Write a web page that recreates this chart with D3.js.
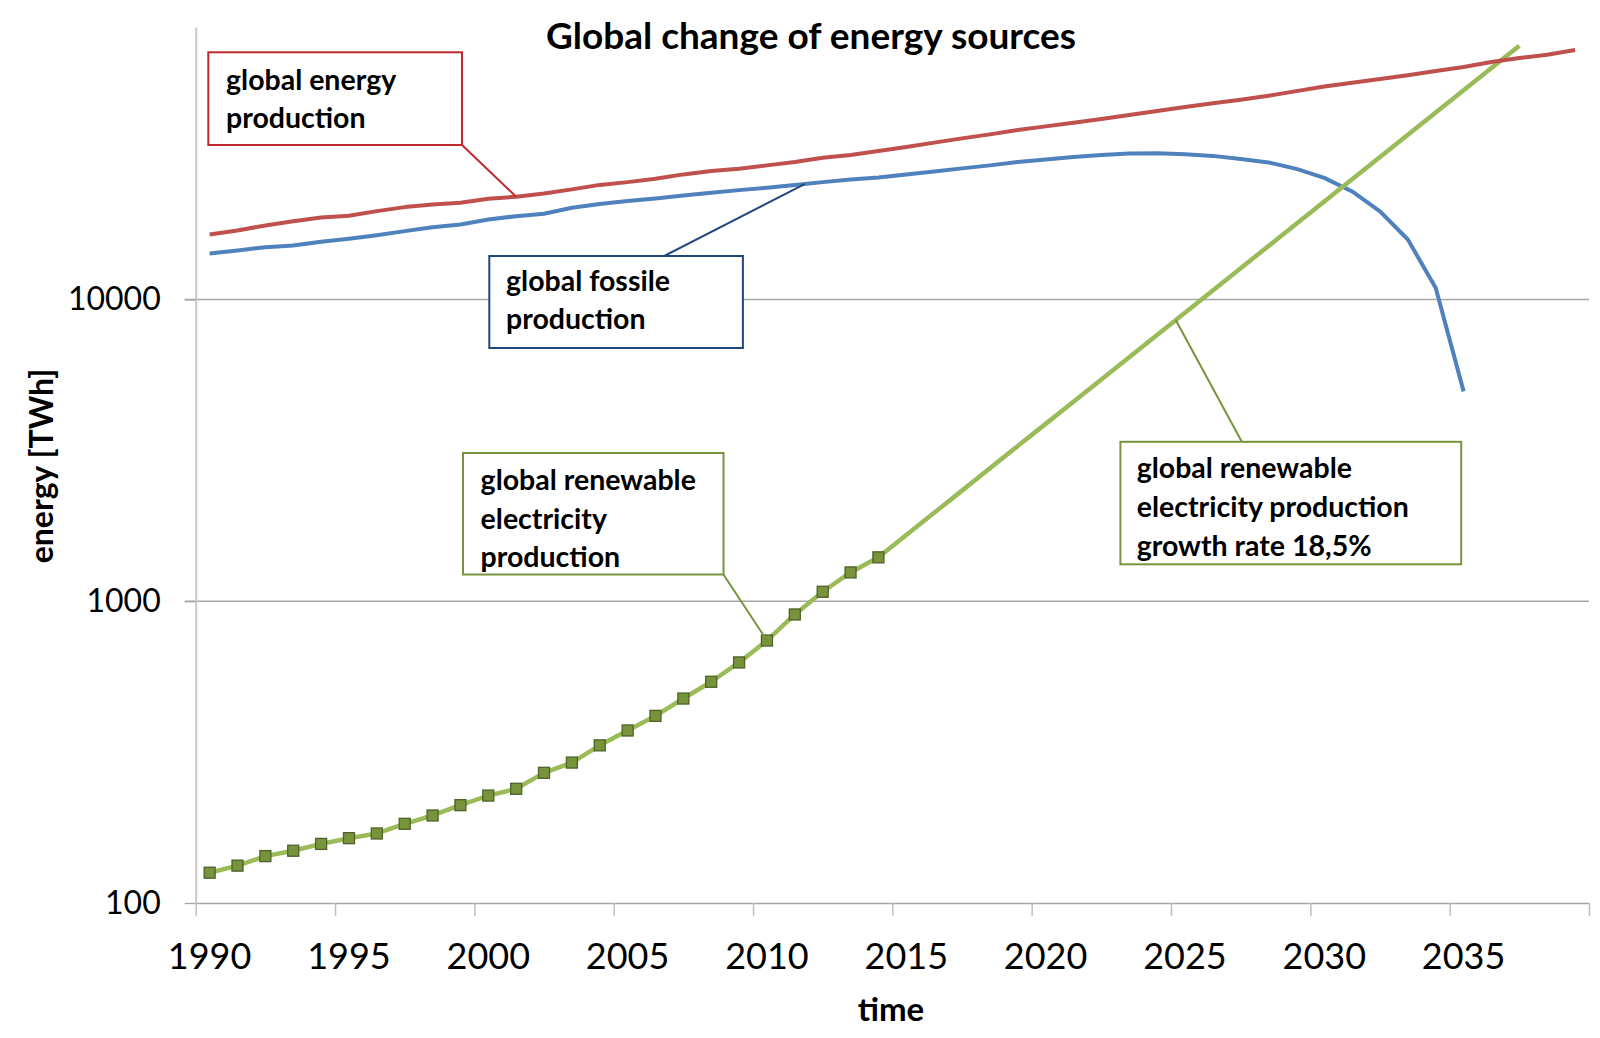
<!DOCTYPE html>
<html><head><meta charset="utf-8">
<script src="https://cdn.jsdelivr.net/npm/d3@7/dist/d3.min.js"></script>
<style>
html,body{margin:0;padding:0;background:#fff;}
svg{display:block;font-family:Lato,"Open Sans",sans-serif;}
</style></head><body>
<svg id="chart" width="1600" height="1038"></svg>
<script>
// ---------- data ----------
const years = [1990,1991,1992,1993,1994,1995,1996,1997,1998,1999,2000,2001,2002,2003,2004,2005,2006,2007,2008,2009,
  2010,2011,2012,2013,2014,2015,2016,2017,2018,2019,2020,2021,2022,2023,2024,2025,2026,2027,2028,2029,
  2030,2031,2032,2033,2034,2035,2036,2037,2038,2039];
const energyProduction = [16430,16940,17600,18180,18700,18950,19630,20240,20660,20930,21580,21910,22470,23170,23980,24490,25140,25980,26640,27130,
  27830,28540,29510,30100,31040,32000,33100,34200,35260,36440,37480,38500,39660,40890,42160,43470,44680,45920,47310,49040,
  50790,52290,53790,55370,57220,58950,61290,63100,64710,67120];
const fossilYears = years.slice(0, 46); // 1990 .. 2035
const fossilProduction = [14210,14540,14910,15110,15540,15900,16340,16850,17370,17730,18420,18890,19240,20140,20740,21190,21630,22130,22590,23040,
  23470,23940,24490,25000,25390,25980,26580,27200,27830,28540,29130,29690,30150,30450,30500,30310,29920,29240,28470,27090,
  25290,22810,19580,15810,10920,4960];
const renewYears = years.slice(0, 25); // 1990 .. 2014
const renewableProduction = [126,133,143,149,157,164,170,183,195,211,227,239,270,292,333,373,417,476,541,627,741,904,1075,1246,1398];
const projYears = years.slice(24, 48); // 2014 .. 2037
const renewableProjection = [1398,1657,1963,2326,2757,3267,3871,4587,5436,6441,7633,9045,10718,12701,15051,17835,21135,25045,29678,35169,41675,49385,58521,69348];
const xTickYears = [1990,1995,2000,2005,2010,2015,2020,2025,2030,2035,2040];
const xTickLabels = ["1990","1995","2000","2005","2010","2015","2020","2025","2030","2035"];
const yTickValues = [100,1000,10000];
const chartTitle = "Global change of energy sources";
const xTitle = "time";
const yTitle = "energy [TWh]";
const noteEnergy = ["global energy","production"];
const noteFossil = ["global fossile","production"];
const noteRenew = ["global renewable","electricity","production"];
const noteGrowth = ["global renewable","electricity production","growth rate 18,5%"];

(function () {
// ---------- scales ----------
const pL = 195.7, pR = 1589, pT = 27, pB = 903;
const x = d3.scaleLinear().domain([1990, 2040]).range([pL, pR]);
const y = d3.scaleLog().domain([100, 80000]).range([pB, pT]);
const cx = yr => x(yr + 0.5); // category centre
const svg = d3.select("#chart");

function interpLog(ys, vals, yr) {
  const i = Math.floor(yr) - ys[0];
  const t = yr - Math.floor(yr);
  const a = Math.log10(vals[i]), b = Math.log10(vals[i + 1]);
  return Math.pow(10, a + (b - a) * t);
}

// ---------- gridlines ----------
svg.append("g").selectAll("line").data(yTickValues.filter(v => v > 100)).join("line")
  .attr("x1", pL - 11).attr("x2", pR)
  .attr("y1", d => y(d)).attr("y2", d => y(d))
  .attr("stroke", "#A6A6A6").attr("stroke-width", 1.3);

// ---------- axes ----------
const yAxis = svg.append("g").attr("transform", `translate(${pL},0)`)
  .call(d3.axisLeft(y).tickValues(yTickValues).tickFormat(d3.format("d")).tickSize(11).tickSizeOuter(0).tickPadding(24));
yAxis.select(".domain").attr("stroke", "#C8C8C8").attr("stroke-width", 2);
yAxis.selectAll(".tick line").attr("stroke", "#A6A6A6").attr("stroke-width", 1.3);
yAxis.selectAll(".tick text").attr("font-size", 32).attr("fill", "#000").attr("font-family", "Lato");

const xAxis = svg.append("g").attr("transform", `translate(0,${pB})`)
  .call(d3.axisBottom(x).tickValues(xTickYears).tickFormat("").tickSize(13).tickSizeOuter(0));
xAxis.select(".domain").attr("stroke", "#A6A6A6").attr("stroke-width", 1.5);
xAxis.selectAll(".tick line").attr("stroke", "#BFBFBF").attr("stroke-width", 1.5);

svg.append("g").selectAll("text").data(xTickLabels).join("text")
  .attr("x", d => cx(+d)).attr("y", 969)
  .attr("text-anchor", "middle").attr("font-size", 36).attr("fill", "#000")
  .text(d => d);

// ---------- series ----------
const line = d3.line().x(d => cx(d[0])).y(d => y(d[1]));
const zip = (a, b) => a.map((v, i) => [v, b[i]]);

svg.append("path").datum(zip(fossilYears, fossilProduction)).attr("d", line)
  .attr("fill", "none").attr("stroke", "#4F81BD").attr("stroke-width", 4).attr("stroke-linejoin", "round");
svg.append("path").datum(zip(renewYears, renewableProduction)).attr("d", line)
  .attr("fill", "none").attr("stroke", "#9BBB59").attr("stroke-width", 4.5).attr("stroke-linejoin", "round");
svg.append("path").datum(zip(projYears, renewableProjection)).attr("d", line)
  .attr("fill", "none").attr("stroke", "#9BBB59").attr("stroke-width", 4.5).attr("stroke-linejoin", "round");
svg.append("path").datum(zip(years, energyProduction)).attr("d", line)
  .attr("fill", "none").attr("stroke", "#C0504D").attr("stroke-width", 4).attr("stroke-linejoin", "round");

const ms = 11;
svg.append("g").selectAll("rect").data(zip(renewYears, renewableProduction)).join("rect")
  .attr("x", d => cx(d[0]) - ms / 2).attr("y", d => y(d[1]) - ms / 2)
  .attr("width", ms).attr("height", ms)
  .attr("fill", "#77933C").attr("stroke", "#4F6228").attr("stroke-width", 1.3);

// ---------- callouts ----------
function callout(box, lines, color, anchor) {
  const g = svg.append("g");
  g.append("line").attr("x1", box.lx).attr("y1", box.ly).attr("x2", anchor[0]).attr("y2", anchor[1])
    .attr("stroke", color).attr("stroke-width", 2);
  g.append("rect").attr("x", box.x).attr("y", box.y).attr("width", box.w).attr("height", box.h)
    .attr("fill", "#fff").attr("stroke", color).attr("stroke-width", 2);
  g.selectAll("text").data(lines).join("text")
    .attr("x", box.tx).attr("y", (d, i) => box.ty + i * box.dy)
    .attr("font-size", 28.5).attr("font-weight", "bold").attr("fill", "#000").text(d => d);
}
callout({x: 208.3, y: 52.3, w: 253.7, h: 92.7, tx: 226, ty: 90, dy: 38, lx: 462, ly: 145},
  noteEnergy, "#C0282D", [cx(2001), y(energyProduction[11])]);
callout({x: 489.3, y: 256, w: 253.6, h: 92, tx: 506, ty: 291, dy: 38, lx: 664.3, ly: 256},
  noteFossil, "#1F497D", [cx(2011.35), y(interpLog(fossilYears, fossilProduction, 2011.35))]);
callout({x: 463, y: 453, w: 260.5, h: 121.5, tx: 480.6, ty: 490, dy: 38.5, lx: 723.3, ly: 574.3},
  noteRenew, "#77933C", [cx(2010), y(renewableProduction[20])]);
callout({x: 1120.4, y: 441.8, w: 340.8, h: 122.5, tx: 1136.7, ty: 478, dy: 38.8, lx: 1241.8, ly: 441.8},
  noteGrowth, "#77933C", [cx(2024.67), y(interpLog(projYears, renewableProjection, 2024.67))]);

// ---------- titles ----------
svg.append("text").attr("x", 811).attr("y", 49).attr("text-anchor", "middle")
  .attr("font-size", 37).attr("font-weight", "bold").attr("fill", "#000").text(chartTitle);
svg.append("text").attr("x", 891).attr("y", 1021).attr("text-anchor", "middle")
  .attr("font-size", 33).attr("font-weight", "bold").attr("fill", "#000").text(xTitle);
svg.append("text").attr("transform", "translate(53,466) rotate(-90)").attr("text-anchor", "middle")
  .attr("font-size", 32).attr("font-weight", "bold").attr("fill", "#000").text(yTitle);
})();
</script>
</body></html>
